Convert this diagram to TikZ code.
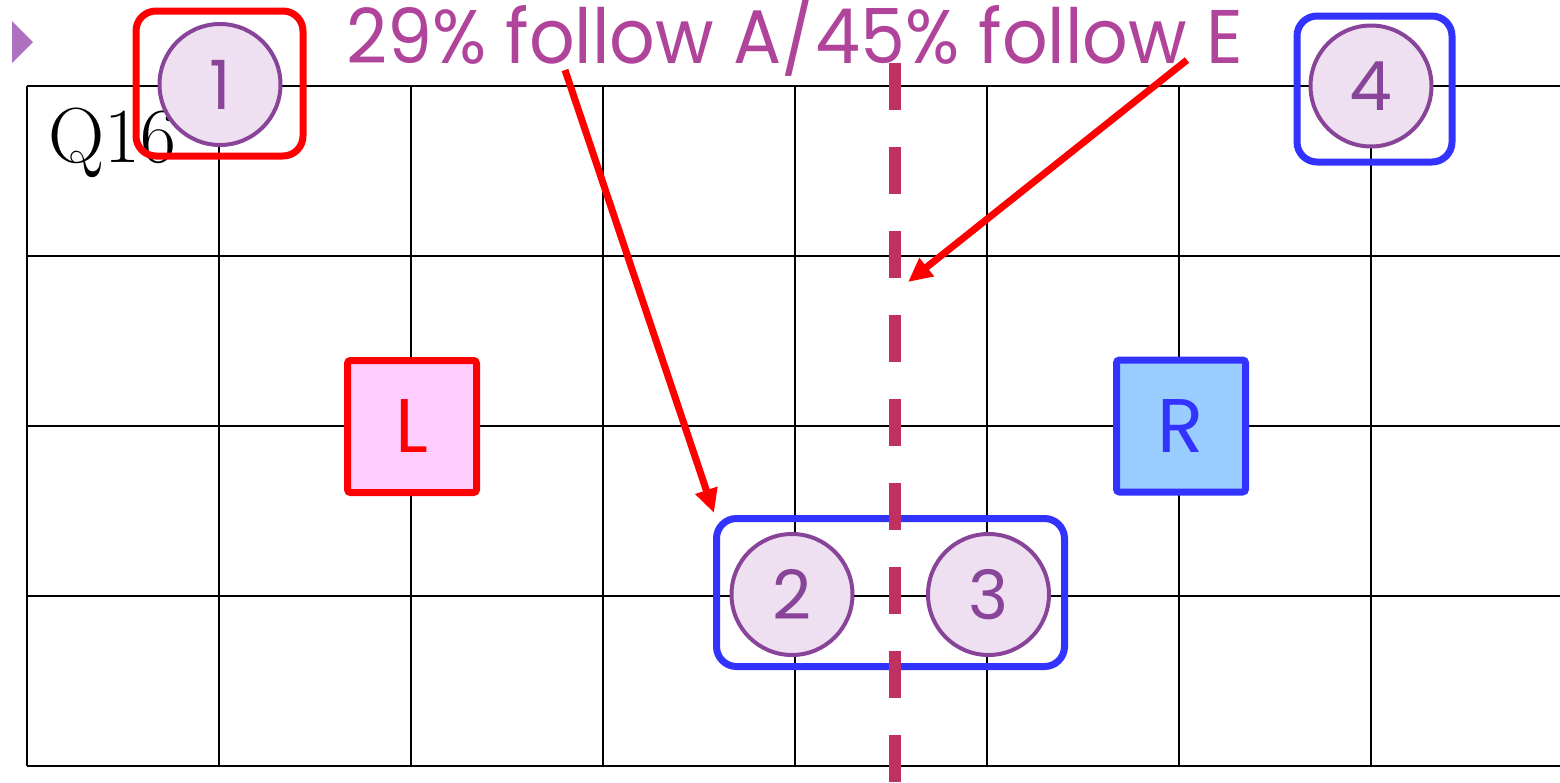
\documentclass[tikz,border=0pt]{standalone}
\usepackage{fontspec}
\newfontfamily\pop{Poppins}
\newfontfamily\popn{Poppins}[FakeStretch=0.94]
\usetikzlibrary{arrows.meta}
\definecolor{circfill}{HTML}{EEE0F0}
\definecolor{circline}{HTML}{884499}
\definecolor{labtext}{HTML}{B0449A}
\definecolor{dashcol}{HTML}{C03060}
\definecolor{myred}{HTML}{FF0000}
\definecolor{myblue}{HTML}{3333FF}
\definecolor{lfill}{HTML}{FFCCFF}
\definecolor{rfill}{HTML}{99CCFF}
\definecolor{tri}{HTML}{B070C0}
\tikzset{
  gridline/.style={line width=2.5pt, black},
  numcirc/.style={circle, draw=circline, fill=circfill, line width=4pt, minimum size=121pt, inner sep=0pt, text=circline, font=\pop\fontsize{68}{68}\selectfont},
  redframe/.style={draw=myred, line width=7pt, rounded corners=20pt, inner sep=0pt},
  blueframe/.style={draw=myblue, line width=7pt, rounded corners=20pt, inner sep=0pt},
  sidebox/.style={line width=7pt, rounded corners=3pt, minimum width=129pt, minimum height=132pt, inner sep=0pt, font=\pop\fontsize{76}{76}\selectfont},
  redarrow/.style={draw=myred, line width=7pt, -{Triangle[length=24pt,width=22pt]}},
}
\begin{document}
\begin{tikzpicture}[x=1pt,y=-1pt]
\useasboundingbox (0,0) rectangle (1560,782);
% grid
\foreach \i in {0,...,7} {
  \draw[gridline] (27+192*\i,86) -- (27+192*\i,766);
}
\foreach \j in {0,...,4} {
  \draw[gridline] (27,86+170*\j) -- (1560,86+170*\j);
}
% Q16 label
\node[anchor=base west, inner sep=0pt, font=\fontsize{78}{78}\selectfont] (q16) at (48,162) {Q16};
% triangle marker
\fill[tri] (12,21) -- (33,42) -- (12,63) -- cycle;
% side boxes
\node[sidebox, draw=myred, fill=lfill, text=myred] (L) at (412,426.5) {L};
\node[sidebox, draw=myblue, fill=rfill, text=myblue] (R) at (1181,426) {R};
% circles
\node[numcirc] (c1) at (220,84.5) {1};
\node[numcirc] (c2) at (792,594.5) {2};
\node[numcirc] (c3) at (988.5,594.5) {3};
\node[numcirc] (c4) at (1371,86) {4};
% frames
\node[redframe, minimum width=167pt, minimum height=145pt] (f1) at (219.5,83.5) {};
\node[blueframe, minimum width=155pt, minimum height=146pt] (f4) at (1374.5,89) {};
\node[blueframe, minimum width=348pt, minimum height=148pt] (f23) at (890.5,592.5) {};
% dashed line
\coordinate (dtop) at (895,63);
\coordinate (dbot) at (895,782);
\draw[dashcol, line width=12pt, dash pattern=on 47pt off 37pt] (dtop) -- (dbot);
% heading
\node[anchor=base west, inner sep=0pt, text=labtext, font=\popn\fontsize{76}{76}\selectfont] (head) at (346,63) {29\% follow A/45\% follow E};
% arrows
\coordinate (a1s) at (565,70);
\coordinate (a1e) at (714,513);
\coordinate (a2s) at (1187,60);
\coordinate (a2e) at (908,282);
\draw[redarrow] (a1s) -- (a1e);
\draw[redarrow] (a2s) -- (a2e);
\end{tikzpicture}
\end{document}
